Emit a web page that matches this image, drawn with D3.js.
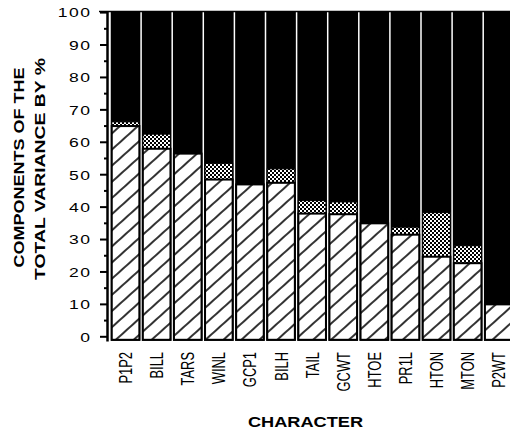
<!DOCTYPE html>
<html><head><meta charset="utf-8">
<script src="https://cdn.jsdelivr.net/npm/d3@7"></script>
<style>body{margin:0;background:#fff}svg{display:block}</style>
</head><body>
<script>
const categories = ["P1P2","BILL","TARS","WINL","GCP1","BILH","TAIL","GCWT","HTOE","PR1L","HTON","MTON","P2WT"];
const hatchedValues = [65,58,56.5,48.5,47,47.5,38,37.8,35,31.5,24.7,22.7,10];
const stippledValues = [1.3,4.5,0,5,0,4.3,4,3.8,0,2.3,13.6,5.4,0];
const yTicks = [0,10,20,30,40,50,60,70,80,90,100];
const yMinorTicks = [5,15,25,35,45,55,65,75,85,95];
const yTitle = ["COMPONENTS OF THE","TOTAL VARIANCE BY %"];
const xTitle = "CHARACTER";

const W=510,H=432;
const svg=d3.select("body").append("svg").attr("width",W).attr("height",H);
const defs=svg.append("defs");
const hp=defs.append("pattern").attr("id","hatch").attr("patternUnits","userSpaceOnUse")
  .attr("width",12).attr("height",12).attr("patternTransform","rotate(-42)");
hp.append("rect").attr("width",12).attr("height",12).attr("fill","#fff");
hp.append("line").attr("x1",0).attr("x2",12).attr("y1",6).attr("y2",6).attr("stroke","#000").attr("stroke-width",1.6);
const sp=defs.append("pattern").attr("id","stip").attr("patternUnits","userSpaceOnUse").attr("width",4).attr("height",4);
sp.append("rect").attr("width",4).attr("height",4).attr("fill","#fff");
sp.append("rect").attr("x",0).attr("y",0).attr("width",2).attr("height",2).attr("fill","#000");
sp.append("rect").attr("x",2).attr("y",2).attr("width",2).attr("height",2).attr("fill","#000");

const x=d3.scaleBand().domain(categories).range([110,110+13*31.1]).padding(0);
const y=d3.scaleLinear().domain([0,100]).range([336.8,12.6]);
const bottom=y(0)+3;
const inset=1.75;

const data=categories.map((c,i)=>({c,h:hatchedValues[i],s:stippledValues[i]}));
const g=svg.append("g");
const bars=g.selectAll("g.bar").data(data).join("g");
bars.append("rect").attr("x",d=>x(d.c)+inset).attr("width",x.bandwidth()-2*inset)
  .attr("y",y(100)).attr("height",bottom-y(100)).attr("fill","#000").attr("stroke","#000").attr("stroke-width",2);
bars.filter(d=>d.s>0).append("rect").attr("x",d=>x(d.c)+inset).attr("width",x.bandwidth()-2*inset)
  .attr("y",d=>y(d.h+d.s)).attr("height",d=>y(d.h)-y(d.h+d.s)).attr("fill","url(#stip)").attr("stroke","#000").attr("stroke-width",1);
bars.append("rect").attr("x",d=>x(d.c)+inset).attr("width",x.bandwidth()-2*inset)
  .attr("y",d=>y(d.h)).attr("height",d=>bottom-y(d.h)).attr("fill","url(#hatch)").attr("stroke","#000").attr("stroke-width",2);

// axis
svg.append("line").attr("x1",107.5).attr("x2",107.5).attr("y1",11).attr("y2",341.5).attr("stroke","#000").attr("stroke-width",2.5);
svg.append("line").attr("x1",99).attr("x2",W).attr("y1",11.5).attr("y2",11.5).attr("stroke","#000").attr("stroke-width",1.5);
svg.selectAll("line.maj").data(yTicks).join("line").attr("x1",100).attr("x2",108).attr("y1",d=>y(d)).attr("y2",d=>y(d)).attr("stroke","#000").attr("stroke-width",2);
svg.selectAll("line.min").data(yMinorTicks).join("line").attr("x1",104).attr("x2",108).attr("y1",d=>y(d)).attr("y2",d=>y(d)).attr("stroke","#000").attr("stroke-width",2);
svg.selectAll("text.yt").data(yTicks).join("text")
  .attr("transform",d=>`translate(90,${y(d)+4.8}) scale(1.3,1)`)
  .attr("text-anchor","end").attr("font-family","Liberation Sans, Arial, sans-serif").attr("font-size",13.5)
  .attr("letter-spacing",1.2).attr("dx",1.2).text(d=>d);

// x labels
svg.selectAll("text.xl").data(categories).join("text")
  .attr("transform",d=>`translate(${x(d)+x.bandwidth()/2+6.5},352) rotate(-90) scale(0.68,1)`)
  .attr("text-anchor","end").attr("font-family","Liberation Sans, Arial, sans-serif").attr("font-size",19).text(d=>d);

// titles
const tf="Liberation Sans, Arial, sans-serif";
svg.append("text").attr("transform","translate(24,167.5) rotate(-90)").attr("text-anchor","middle")
  .attr("font-family",tf).attr("font-weight","bold").attr("font-size",15)
  .attr("textLength",200).attr("lengthAdjust","spacingAndGlyphs").text(yTitle[0]);
svg.append("text").attr("transform","translate(45,169) rotate(-90)").attr("text-anchor","middle")
  .attr("font-family",tf).attr("font-weight","bold").attr("font-size",15)
  .attr("textLength",222).attr("lengthAdjust","spacingAndGlyphs").text(yTitle[1]);
svg.append("text").attr("x",305.5).attr("y",427.3).attr("text-anchor","middle")
  .attr("font-family",tf).attr("font-weight","bold").attr("font-size",15)
  .attr("textLength",115).attr("lengthAdjust","spacingAndGlyphs").text(xTitle);
</script>
</body></html>
